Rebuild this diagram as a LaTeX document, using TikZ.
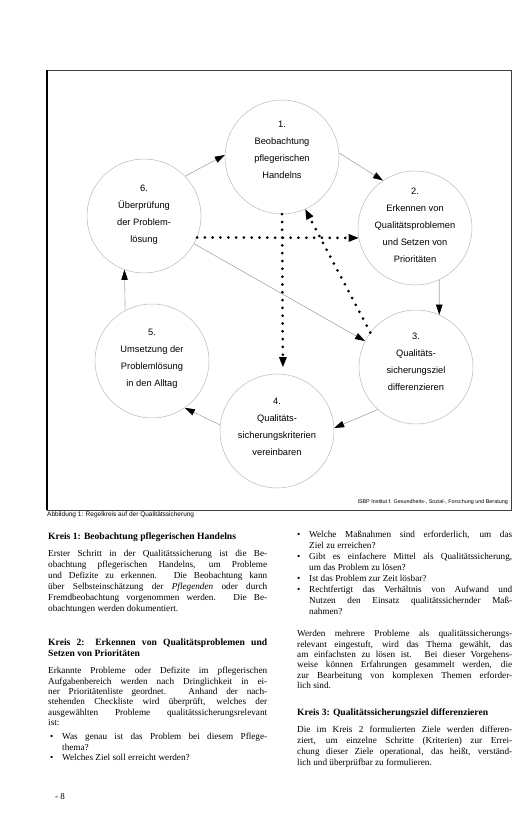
\documentclass[tikz,border=0pt]{standalone}
\usepackage{fontspec}
\setmainfont{Liberation Serif}
\setsansfont{Liberation Sans}
\usetikzlibrary{arrows.meta}

\newcommand{\jl}[2][219pt]{\makebox[#1][s]{#2}}
\newcommand{\punkt}{\makebox[12pt][l]{•}}
\newcommand{\einzug}{\hspace*{12pt}}
\newcommand{\zeilen}[1]{\begin{tabular}[t]{@{}l@{}}#1\end{tabular}}

\tikzset{
  kreis/.style={circle,draw=gray!55,line width=0.5pt,minimum size=114pt,inner sep=0pt},
  kreistext/.style={align=center,inner sep=0pt,font=\sffamily\fontsize{9.3}{17}\selectfont},
  pfeil/.style={draw=gray!70,line width=0.6pt,-{Triangle[length=10pt,width=6.5pt,color=black]}},
  punkte/.style={draw=black,line width=3pt,line cap=round,dash pattern=on 0pt off 7.8pt,
    -{Triangle[length=10pt,width=8pt,color=black,line width=0pt]}},
  spalte/.style={anchor=base west,inner sep=0pt,font=\fontsize{9.2}{11}\selectfont},
  kopf/.style={spalte,font=\bfseries\fontsize{9.6}{10.5}\selectfont},
}

\begin{document}
\begin{tikzpicture}[x=1pt,y=1pt]
\useasboundingbox (0,0) rectangle (516,818);

\draw[black!75,line width=0.6pt] (47,308) rectangle (511,748);
\draw[black,line width=1.2pt] (47,308) -- (47,748);

\node[kreis] (c1) at (282,661) {};
\node[kreis] (c2) at (415,590) {};
\node[kreis] (c3) at (416,451) {};
\node[kreis] (c4) at (277,387) {};
\node[kreis] (c5) at (152,457) {};
\node[kreis] (c6) at (144,602) {};

\node[kreistext] (t1) at ([yshift=7pt]c1) {1.\\Beobachtung\\pflegerischen\\Handelns};
\node[kreistext] (t2) at ([yshift=3pt]c2) {2.\\Erkennen von\\Qualitätsproblemen\\und Setzen von\\Prioritäten};
\node[kreistext] (t3) at ([yshift=5pt]c3) {3.\\Qualitäts-\\sicherungsziel\\differenzieren};
\node[kreistext] (t4) at ([yshift=4pt]c4) {4.\\Qualitäts-\\sicherungskriterien\\vereinbaren};
\node[kreistext] (t5) at ([yshift=2pt]c5) {5.\\Umsetzung der\\Problemlösung\\in den Alltag};
\node[kreistext] (t6) at ([yshift=1pt]c6) {6.\\Überprüfung\\der Problem-\\lösung};

\draw[pfeil] (c6.44) -- (c1.178);
\draw[pfeil] (c1.4) -- (c2.124);
\draw[pfeil] (c2.-65) -- (c3.66);
\draw[pfeil] (c3.228) -- (c4.3);
\draw[pfeil] (c4.174) -- (c5.-55);
\draw[pfeil] (c5.118) -- (c6.250);
\draw[pfeil] (c6.-29) -- (c3.153);

\draw[punkte] (c6.-22) -- (c2.190);
\draw[punkte,shorten >=7pt] (c1.south) -- (c4.84);
\draw[punkte] (c3.143) -- (c1.-66);

\node[anchor=base east,inner sep=0pt,font=\sffamily\fontsize{5.4}{6}\selectfont] (quelle) at (508,314)
  {ISBP Institut f. Gesundheits-, Sozial-, Forschung und Beratung};
\node[anchor=base west,inner sep=0pt,font=\sffamily\fontsize{6.5}{8}\selectfont] (abb) at (47,301)
  {Abbildung 1: Regelkreis auf der Qualitätssicherung};

\node[kopf] (k1kopf) at (48,278) {Kreis 1: Beobachtung pflegerischen Handelns};
\node[spalte] (k1text) at (48,261) {\zeilen{%
\jl{Erster Schritt in der Qualitätssicherung ist die Be-}\\
\jl{obachtung pflegerischen Handelns, um Probleme}\\
\jl{und Defizite zu erkennen. Die Beobachtung kann}\\
\jl{über Selbsteinschätzung der \textit{Pflegenden} oder durch}\\
\jl{Fremdbeobachtung vorgenommen werden. Die Be-}\\
obachtungen werden dokumentiert.}};

\node[kopf] (k2kopf) at (48,172) {\zeilen{%
\jl{Kreis 2: Erkennen von Qualitätsproblemen und}\\
Setzen von Prioritäten}};
\node[spalte,font=\fontsize{9.2}{10.3}\selectfont] (k2text) at (48,144) {\zeilen{%
\jl{Erkannte Probleme oder Defizite im pflegerischen}\\
\jl{Aufgabenbereich werden nach Dringlichkeit in ei-}\\
\jl{ner Prioritätenliste geordnet. Anhand der nach-}\\
\jl{stehenden Checkliste wird überprüft, welches der}\\
\jl{ausgewählten Probleme qualitätssicherungsrelevant}\\
ist:}};
\node[spalte,font=\fontsize{9.2}{10.3}\selectfont] (k2fragen) at (50,78) {\zeilen{%
\punkt\jl[205pt]{Was genau ist das Problem bei diesem Pflege-}\\
\einzug thema?\\
\punkt Welches Ziel soll erreicht werden?}};

\node[spalte] (fragen) at (297,280) {\zeilen{%
\punkt\jl[203pt]{Welche Maßnahmen sind erforderlich, um das}\\
\einzug Ziel zu erreichen?\\
\punkt\jl[203pt]{Gibt es einfachere Mittel als Qualitätssicherung,}\\
\einzug um das Problem zu lösen?\\
\punkt Ist das Problem zur Zeit lösbar?\\
\punkt\jl[203pt]{Rechtfertigt das Verhältnis von Aufwand und}\\
\einzug\jl[203pt]{Nutzen den Einsatz qualitätssichernder Maß-}\\
\einzug nahmen?}};
\node[spalte,font=\fontsize{9.2}{10.3}\selectfont] (auswahl) at (297,181) {\zeilen{%
\jl[215pt]{Werden mehrere Probleme als qualitätssicherungs-}\\
\jl[215pt]{relevant eingestuft, wird das Thema gewählt, das}\\
\jl[215pt]{am einfachsten zu lösen ist. Bei dieser Vorgehens-}\\
\jl[215pt]{weise können Erfahrungen gesammelt werden, die}\\
\jl[215pt]{zur Bearbeitung von komplexen Themen erforder-}\\
lich sind.}};

\node[kopf] (k3kopf) at (297,102) {Kreis 3: Qualitätssicherungsziel differenzieren};
\node[spalte,font=\fontsize{9.2}{10.8}\selectfont] (k3text) at (297,85) {\zeilen{%
\jl[215pt]{Die im Kreis 2 formulierten Ziele werden differen-}\\
\jl[215pt]{ziert, um einzelne Schritte (Kriterien) zur Errei-}\\
\jl[215pt]{chung dieser Ziele operational, das heißt, verständ-}\\
lich und überprüfbar zu formulieren.}};

\node[anchor=base west,inner sep=0pt,font=\fontsize{9}{10}\selectfont] (seite) at (55,18) {- 8};
\end{tikzpicture}
\end{document}
